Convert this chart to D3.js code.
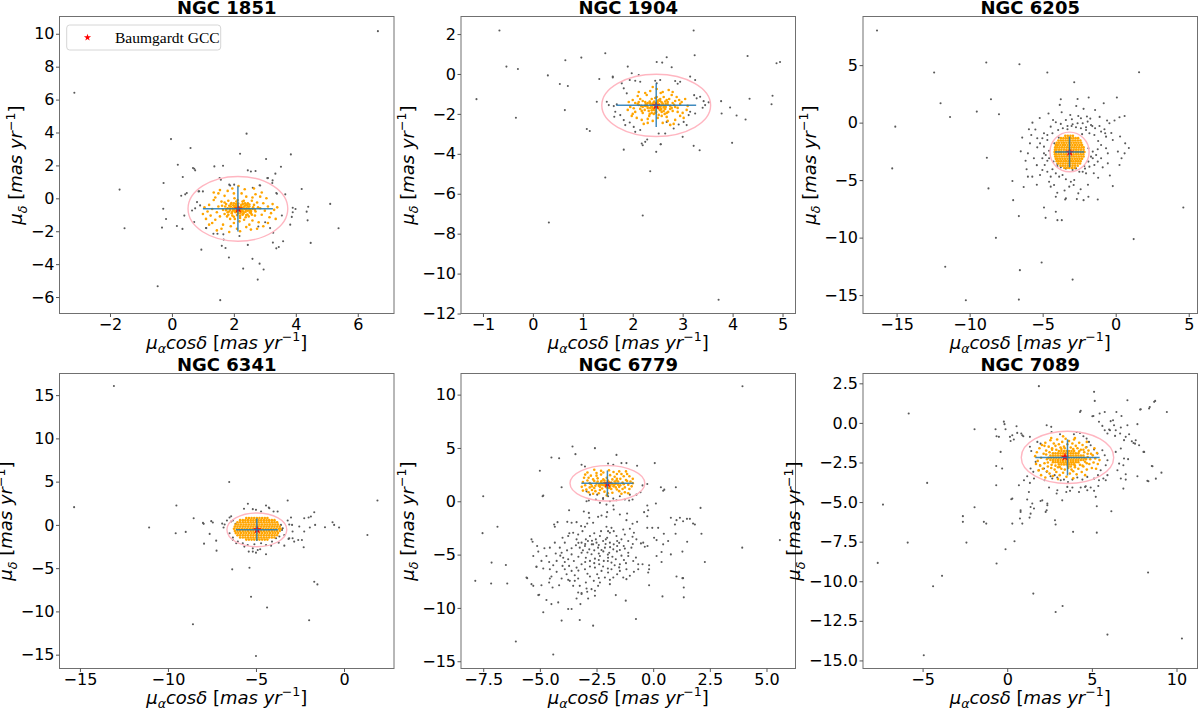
<!DOCTYPE html>
<html>
<head>
<meta charset="utf-8">
<script src="https://cdn.jsdelivr.net/npm/d3@7"></script>
<style>
  body { margin: 0; background: #fff; }
  svg text { font-family: "DejaVu Sans", sans-serif; }
</style>
</head>
<body>
<svg id="fig" width="1200" height="710"></svg>
<script>
// values (proper motions in mas/yr)
const clusterNames = ["NGC 1851", "NGC 1904", "NGC 6205", "NGC 6341", "NGC 6779", "NGC 7089"];
const baumgardtPM = [[2.145, -0.65], [2.469, -1.594], [-3.149, -2.574], [-4.93, -0.55], [-2.018, 1.618], [3.41, -2.16]];
const memberMean = [[2.13, -0.64], [2.47, -1.57], [-3.16, -2.55], [-4.95, -0.57], [-2.02, 1.68], [3.56, -2.18]];
const ellipseSemiAxes = [[1.61, 1.97], [1.09, 1.56], [1.34, 1.72], [1.7, 1.95], [1.65, 1.66], [2.73, 1.65]];
const crossHalfLength = [[1.13, 1.38], [0.8, 1.09], [1.0, 1.34], [1.19, 1.3], [1.15, 1.2], [1.9, 1.14]];

const xLimits = [[-3.63, 7.17], [-1.44, 5.26], [-17.3, 5.6], [-16.16, 2.84], [-8.48, 6.28], [-8.52, 11.24]];
const yLimits = [[-7.0, 11.05], [-12.0, 2.88], [-16.6, 9.23], [-16.6, 17.5], [-15.68, 11.98], [-15.51, 3.12]];
const xTickValues = [[-2, 0, 2, 4, 6], [-1, 0, 1, 2, 3, 4, 5], [-15, -10, -5, 0, 5], [-15, -10, -5, 0], [-7.5, -5, -2.5, 0, 2.5, 5], [-5, 0, 5, 10]];
const yTickValues = [[-6, -4, -2, 0, 2, 4, 6, 8, 10], [-12, -10, -8, -6, -4, -2, 0, 2], [-15, -10, -5, 0, 5], [-15, -10, -5, 0, 5, 10, 15], [-15, -10, -5, 0, 5, 10], [-15, -12.5, -10, -7.5, -5, -2.5, 0, 2.5]];
const xTickFormat = ["d", "d", "d", "d", ".1f", "d"];
const yTickFormat = ["d", "d", "d", "d", "d", ".1f"];

// NGC 1851
const ngc1851Field = [[6.65,10.16],[-3.15,6.42],[2.41,3.93],[-0.03,3.6],[0.6,3.06],[2.2,2.71],[3.84,2.67],[3.04,2.39],[0.19,2.04],[1.65,1.98],[3.52,1.92],[0.68,1.84],[0.75,1.7],[2.45,1.7],[2.7,1.66],[0.35,1.3],[3.34,1.5],[1.54,1.23],[3.1,1.23],[-0.27,0.93],[1.85,0.83],[2.83,0.79],[3.24,0.93],[-1.69,0.53],[0.88,0.43],[4.19,0.57],[0.3,0.16],[0.48,0.32],[3.37,0.32],[3.66,0.24],[5.11,-0.34],[-0.28,-0.63],[0.75,-0.61],[3.9,-0.57],[3.99,-0.65],[4.4,-0.51],[3.9,-0.85],[4.35,-0.81],[0.4,-1.05],[-0.19,-1.26],[3.87,-1.13],[4.38,-1.34],[0.72,-1.44],[0.16,-1.68],[-0.32,-1.78],[-1.53,-1.82],[0.34,-1.86],[1.1,-1.8],[5.38,-1.82],[1.34,-2.15],[2.18,-2.29],[3.27,-2.09],[1.67,-2.51],[3.26,-2.69],[3.59,-2.61],[4.48,-2.71],[1.61,-2.89],[2.45,-2.83],[1.73,-3.02],[3.45,-2.96],[3.37,-3.04],[0.95,-3.12],[1.84,-3.6],[2.6,-3.68],[2.83,-3.97],[2.3,-4.27],[2.96,-4.33],[2.77,-4.94],[-0.46,-5.34],[1.56,-6.19],[1.88,0.78],[2.01,0.83],[2.61,0.64],[2.85,0.78],[0.86,0.42],[1.0,0.42],[0.81,-0.23],[0.91,-0.43],[0.65,-0.74],[1.11,-1.81],[1.47,-2.15],[1.66,-2.19],[2.79,-1.71],[3.01,-1.45],[3.17,-1.81],[3.55,-1.04],[3.82,-1.6],[3.39,0.28],[1.58,1.13],[2.55,1.63],[3.08,1.23],[3.25,1.09],[0.43,0.24],[0.72,1.8],[1.37,1.94]];
const ngc1851Members = [[2.13,-0.62],[2.05,-0.55],[2.2,-0.7],[2.25,-0.58],[1.98,-0.72],[2.3,-0.8],[2.1,-0.4],[2.15,-0.9],[1.9,-0.5],[2.4,-0.6],[2.35,-0.45],[1.85,-0.8],[2.0,-0.3],[2.28,-1.0],[2.45,-0.75],[1.95,-1.05],[2.5,-0.5],[1.8,-0.6],[2.6,-0.65],[2.08,-0.2],[2.2,-1.2],[1.75,-0.35],[2.55,-0.9],[1.7,-0.95],[2.65,-0.4],[2.38,-1.15],[1.88,-1.25],[2.02,0.0],[2.32,-0.15],[1.65,-0.7],[2.7,-0.8],[2.18,-1.4],[1.6,-0.2],[2.75,-0.25],[1.55,-1.1],[2.85,-0.6],[2.0,-1.5],[2.4,0.1],[1.5,-0.5],[2.9,-1.0],[1.45,-0.85],[2.6,-1.35],[1.7,0.15],[2.95,-0.3],[1.4,-1.3],[3.0,-0.75],[2.25,0.3],[1.9,-1.7],[2.5,-1.6],[1.35,-0.1],[3.1,-0.5],[1.3,-0.65],[3.15,-1.15],[1.8,0.45],[2.7,0.25],[1.25,-1.05],[2.1,-1.85],[2.8,-1.45],[1.5,0.3],[3.2,-0.9],[1.2,-0.4],[2.35,0.55],[1.65,-1.6],[3.05,0.0],[1.15,-0.8],[2.55,-1.9],[1.95,0.6],[3.25,-0.35],[1.1,-1.25],[2.9,0.35],[1.4,0.05],[2.2,-2.0],[1.6,-1.85],[3.3,-0.7],[1.05,-0.55],[2.65,0.6],[1.3,-1.5],[2.95,-1.7],[2.15,0.75],[1.85,-2.05],[2.45,-0.3],[2.3,-0.95],[1.92,-0.28],[2.05,-0.85],[2.22,-0.5],[2.12,-0.75],[2.0,-0.65],[2.27,-0.68],[2.17,-0.55],[1.93,-0.9],[2.38,-0.82],[2.42,-0.4],[1.78,-1.1],[2.48,-1.1],[1.82,-0.15],[2.58,-0.15],[1.72,-0.5],[2.68,-1.05],[2.03,-1.25],[2.33,-1.3],[2.12,-0.1],[1.62,-0.45],[2.78,-0.55],[2.06,-0.48],[2.24,-0.82],[2.16,-0.66],[1.98,-0.42],[2.29,-0.35],[2.1,-1.02],[2.44,-0.98],[1.87,-0.62],[2.52,-0.7],[3.35,-1.25],[1.0,-0.95],[3.4,-0.55],[2.75,-1.85],[1.55,0.5],[2.0,0.3],[2.85,0.1],[1.2,-1.6],[3.1,-1.5],[1.35,0.35],[2.6,0.05],[1.45,-1.95],[2.4,-1.75],[2.02,-0.58],[2.09,-0.68],[2.18,-0.6],[2.26,-0.74],[2.34,-0.65],[1.96,-0.6],[2.04,-0.78],[2.12,-0.85],[2.21,-0.92],[2.31,-0.55],[2.39,-0.7],[2.47,-0.62],[2.55,-0.78],[1.88,-0.7],[1.8,-0.85],[1.9,-0.35],[2.0,-0.45],[2.14,-0.32],[2.24,-0.4],[2.36,-0.3],[2.5,-0.38],[2.62,-0.55],[2.58,-1.0],[2.4,-1.02],[2.2,-1.08],[2.0,-1.12],[1.82,-1.0],[1.75,-0.72],[1.7,-0.25],[2.28,-0.2],[2.1,-0.55],[2.32,-0.88],[1.95,-0.82],[2.45,-0.5],[2.15,-0.78],[2.07,-0.35],[2.52,-0.85],[1.85,-0.45],[2.68,-0.7],[2.38,-0.42]];

// NGC 1904
const ngc1904Field = [[-0.67,2.18],[-1.13,-1.26],[-0.53,0.37],[-0.3,0.25],[-0.34,-2.19],[0.3,-0.07],[0.54,-0.5],[0.65,0.69],[0.7,-0.6],[0.64,-1.81],[0.97,0.82],[0.32,-7.44],[1.33,-0.25],[1.08,-2.76],[1.14,-2.86],[1.45,1.04],[1.6,-0.13],[1.9,0.37],[1.45,-5.19],[1.82,-3.79],[2.2,-7.09],[2.35,-4.87],[2.47,-3.9],[2.56,-3.52],[2.2,-3.57],[2.25,-3.4],[2.29,-3.28],[2.48,0.6],[2.59,0.57],[2.68,0.84],[2.78,0.34],[3.22,2.18],[3.24,0.94],[3.22,-3.6],[3.34,-3.82],[3.0,-3.15],[3.99,-3.45],[3.72,-11.31],[4.3,0.9],[4.34,-1.24],[4.26,-2.28],[4.08,-2.08],[3.95,-1.68],[3.78,-1.98],[3.77,-1.36],[4.8,-1.09],[4.78,-1.52],[4.88,0.54],[4.95,0.6],[1.78,-0.47],[1.94,-0.3],[2.05,-0.34],[2.15,-0.39],[2.45,-0.34],[2.55,-0.3],[2.48,-0.47],[2.85,-0.35],[2.95,-0.39],[2.9,-0.49],[3.15,-0.13],[3.25,-0.3],[3.23,-1.06],[3.35,-1.14],[3.28,-1.22],[3.42,-1.36],[3.45,-1.56],[3.4,-1.69],[3.52,-1.42],[3.15,-1.89],[3.25,-1.98],[3.12,-2.06],[3.02,-2.4],[3.08,-2.56],[2.92,-2.53],[2.82,-2.73],[1.28,-1.39],[1.48,-1.39],[1.52,-1.56],[1.62,-1.61],[1.68,-1.52],[1.65,-1.89],[1.75,-2.06],[1.63,-2.14],[1.82,-2.31],[1.94,-2.43],[1.85,-2.56],[2.02,-2.65],[2.05,-2.9],[2.15,-2.81],[2.18,-3.48],[2.56,-3.52],[2.52,-2.98],[2.65,-2.98],[2.75,-2.56],[2.68,-2.4],[1.82,-0.72],[1.88,-0.97],[1.98,0.04],[2.12,-0.05],[1.6,-0.17]];
const ngc1904Members = [[2.47,-1.6],[2.4,-1.5],[2.55,-1.65],[2.5,-1.45],[2.35,-1.7],[2.6,-1.55],[2.42,-1.8],[2.3,-1.45],[2.65,-1.75],[2.52,-1.3],[2.38,-1.95],[2.7,-1.4],[2.25,-1.6],[2.58,-1.9],[2.2,-1.35],[2.75,-1.6],[2.45,-1.2],[2.15,-1.75],[2.8,-1.85],[2.33,-2.1],[2.62,-1.15],[2.1,-1.5],[2.85,-1.35],[2.5,-2.2],[2.05,-1.9],[2.9,-1.7],[2.28,-1.05],[2.68,-2.15],[2.0,-1.3],[2.95,-1.5],[2.4,-2.35],[2.56,-0.95],[1.95,-1.65],[3.0,-1.95],[2.18,-2.3],[2.78,-1.05],[2.1,-1.1],[3.05,-1.25],[2.6,-2.45],[1.98,-2.1],[2.85,-2.3],[2.35,-0.85],[2.72,-0.8],[2.22,-2.5],[3.08,-1.8],[1.92,-1.4],[2.48,-0.75],[2.95,-2.1],[2.12,-0.9],[2.82,-2.5],[2.44,-1.68],[2.53,-1.52],[2.49,-1.58],[2.37,-1.6],[2.58,-1.42],[2.43,-1.38],[2.62,-1.68],[2.32,-1.85],[2.55,-1.82],[2.66,-1.5],[2.26,-1.5],[2.47,-1.9],[2.73,-1.25],[2.17,-1.6],[2.9,-1.9],[2.05,-1.45],[2.38,-1.25],[2.64,-2.0],[2.78,-1.7],[2.2,-1.95],[2.88,-1.15],[2.3,-2.25],[2.52,-2.05],[2.68,-1.3],[2.15,-1.25],[2.42,-2.0],[2.98,-1.4],[2.02,-1.72],[2.6,-0.9],[2.25,-0.95],[2.7,-2.35],[2.08,-2.2],[3.1,-1.6],[1.9,-1.8],[2.4,-0.65],[2.8,-0.9],[2.34,-1.38],[2.57,-1.75],[2.46,-1.47],[2.51,-1.7],[2.4,-1.72],[2.63,-1.6],[2.29,-1.62],[2.55,-1.35],[2.45,-1.82],[2.36,-1.52],[2.71,-1.9],[2.24,-1.8],[2.83,-1.55],[2.12,-1.4],[2.93,-1.3],[2.0,-2.0],[3.02,-2.2],[2.3,-2.45],[2.75,-2.55],[2.44,-1.55],[2.52,-1.62],[2.39,-1.65],[2.58,-1.58],[2.48,-1.72],[2.35,-1.45],[2.6,-1.48],[2.42,-1.42],[2.54,-1.78],[2.3,-1.7],[2.66,-1.65],[2.28,-1.55],[2.7,-1.52],[2.5,-1.35],[2.62,-1.85],[2.38,-1.82],[2.45,-1.95],[2.55,-1.25],[2.75,-1.75],[2.2,-1.65],[2.8,-1.45],[2.25,-1.4],[2.34,-2.0],[2.68,-1.95],[2.58,-2.1],[2.18,-1.85],[2.85,-1.65],[2.12,-1.55],[2.65,-1.38],[2.48,-1.15]];

// NGC 6205
const ngc6205Field = [[-16.34,8.01],[-8.86,5.23],[-6.59,5.08],[-12.43,4.36],[-4.68,4.36],[1.6,4.38],[-2.84,3.51],[-3.76,2.03],[-3.83,1.54],[-2.61,2.06],[-1.85,2.18],[0.08,2.18],[-8.54,2.03],[-11.99,1.68],[-9.51,0.96],[-7.99,0.73],[-11.34,0.49],[-15.09,-0.35],[-15.3,-3.98],[-2.7,1.45],[-1.41,1.1],[-0.82,1.68],[-8.82,-3.05],[-8.71,-5.72],[-7.07,-5.08],[-7.02,-6.74],[-6.63,-8.13],[-4.91,-7.38],[-4.8,-8.28],[-4.1,-7.75],[-3.99,-8.48],[-3.69,-8.48],[-3.46,-6.68],[-2.66,-6.65],[-2.2,-6.74],[-1.87,-6.45],[-1.23,-6.68],[-0.2,-5.52],[4.63,-7.38],[1.23,-10.13],[-8.2,-10.02],[-11.67,-12.54],[-6.56,-12.83],[-5.07,-12.17],[-2.95,-13.65],[-10.26,-15.45],[-6.63,-15.39],[-2.38,0.38],[-1.97,0.53],[-1.74,0.35],[-2.56,0.58],[-3.11,0.67],[-3.41,0.23],[-3.0,0.29],[-4.1,0.03],[-3.76,-0.11],[-4.29,0.23],[-4.45,-0.35],[-3.3,-0.29],[-2.95,-0.14],[-2.61,-0.06],[-2.26,-0.06],[-1.92,0.09],[-1.69,-0.2],[-2.03,-0.4],[-1.41,-0.49],[-1.11,-0.29],[-0.77,-0.58],[-1.0,-0.78],[-0.59,0.18],[-0.43,-0.06],[-0.08,0.18],[0.26,0.47],[0.61,0.58],[-0.72,-0.93],[-0.66,-1.22],[-5.94,-0.58],[-5.78,-1.07],[-4.91,-0.93],[-4.68,-1.07],[-5.02,-1.36],[-5.18,-1.8],[-5.37,-2.15],[-6.01,-2.67],[-5.6,-3.1],[-4.91,-2.67],[-5.02,-3.1],[-4.68,-3.31],[-4.86,-3.69],[-5.02,-4.12],[-5.18,-4.56],[-6.1,-4.06],[-5.71,-4.7],[-4.68,-4.27],[-4.33,-4.06],[-4.45,-4.7],[-4.1,-4.41],[-3.87,-4.7],[-3.64,-4.56],[-4.56,-5.14],[-4.22,-5.43],[-4.45,-5.57],[-3.41,-4.93],[-3.07,-5.14],[-2.84,-4.99],[-3.18,-5.57],[-2.88,-5.43],[-2.26,-4.27],[-2.03,-4.41],[-2.56,-6.15],[-3.41,-6.59],[-4.1,-6.44],[-6.17,-3.31],[-6.01,-4.7],[-5.87,-1.8],[-5.37,-1.36],[-1.87,-2.23],[-1.57,-2.52],[-1.23,-2.32],[-1.69,-2.96],[-1.34,-2.82],[-1.0,-3.1],[-1.23,-3.39],[-1.46,-3.69],[-1.8,-3.83],[-0.89,-3.89],[-0.54,-3.54],[-0.2,-1.51],[0.15,-2.52],[0.65,-1.8],[0.26,-3.69],[0.61,-2.67],[-0.66,-2.23],[-0.54,-2.67],[-1.0,-1.94],[-2.72,-3.98],[-2.49,-4.27],[-2.95,-4.12],[-3.76,-3.89],[-3.41,-4.0],[-3.94,-0.64],[-3.62,-0.49],[-3.3,-0.58],[-3.02,-0.29],[-2.72,-0.4],[-2.38,-0.49],[-2.03,-0.64],[-1.8,-0.93],[-1.46,-1.07],[-4.33,-0.93],[-4.68,-1.51],[-4.91,-2.09],[-4.56,-2.44],[-4.79,-2.82],[-4.56,-3.1],[-4.26,-3.39],[-3.99,-3.77],[-2.15,-3.77],[-1.87,-3.39],[-1.57,-3.1],[-5.5,-0.6],[-5.2,0.4],[-4.6,0.8],[-3.7,0.9],[-2.2,1.2],[-1.1,0.5],[-0.3,-0.9],[0.3,-1.2],[0.9,-2.2],[0.4,-3.1],[-0.4,-4.6],[-1.2,-4.8],[-1.9,-5.4],[-2.4,-5.8],[-3.5,-5.9],[-4.0,-6.1],[-5.4,-5.4],[-6.3,-5.6],[-6.5,-2.5],[-6.4,-1.3],[-5.7,0.0],[-1.6,-0.3],[-3.9,-1.3],[-2.3,-1.0],[-1.2,-1.6],[-4.2,-1.8],[-4.0,-3.6],[-2.1,-4.0],[-1.5,-4.4],[-5.4,-3.7]];
// dense core: rows of [pmdec, [pmra ...]]
const ngc6205MemberRows = [
  [-1.15, [-3.45,-3.28,-3.1,-2.93]],
  [-1.35, [-3.75,-3.58,-3.42,-3.25,-3.08,-2.9,-2.74,-2.57]],
  [-1.55, [-3.92,-3.76,-3.6,-3.43,-3.26,-3.1,-2.94,-2.77,-2.6,-2.42]],
  [-1.75, [-4.04,-3.88,-3.7,-3.54,-3.37,-3.2,-3.04,-2.87,-2.7,-2.54,-2.36]],
  [-1.95, [-4.1,-3.96,-3.79,-3.62,-3.46,-3.29,-3.12,-2.96,-2.79,-2.62,-2.46,-2.3]],
  [-2.15, [-4.14,-4.01,-3.85,-3.68,-3.51,-3.34,-3.18,-3.01,-2.84,-2.68,-2.51,-2.34,-2.2]],
  [-2.35, [-4.16,-4.05,-3.88,-3.72,-3.55,-3.38,-3.21,-3.05,-2.88,-2.71,-2.55,-2.38,-2.2]],
  [-2.55, [-4.18,-4.07,-3.9,-3.74,-3.57,-3.4,-3.23,-3.07,-2.9,-2.73,-2.57,-2.4,-2.23,-2.14]],
  [-2.75, [-4.16,-4.06,-3.9,-3.73,-3.56,-3.39,-3.22,-3.06,-2.89,-2.72,-2.56,-2.39,-2.22]],
  [-2.95, [-4.14,-4.03,-3.86,-3.69,-3.52,-3.36,-3.19,-3.02,-2.86,-2.69,-2.52,-2.35,-2.2]],
  [-3.15, [-4.1,-3.97,-3.8,-3.64,-3.47,-3.3,-3.14,-2.97,-2.8,-2.63,-2.47,-2.3]],
  [-3.35, [-4.04,-3.9,-3.73,-3.56,-3.4,-3.23,-3.06,-2.9,-2.73,-2.56,-2.4]],
  [-3.55, [-3.94,-3.78,-3.61,-3.44,-3.28,-3.11,-2.94,-2.78,-2.61,-2.44]],
  [-3.75, [-3.78,-3.62,-3.45,-3.28,-3.12,-2.95,-2.78,-2.6]],
  [-3.95, [-3.52,-3.35,-3.18,-3.0,-2.82]]
];

// NGC 6341
const ngc6341Field = [[-13.07,16.05],[-15.33,2.05],[-11.07,-0.31],[-9.52,2.24],[-9.56,-0.97],[-8.99,-0.81],[-8.54,0.77],[-7.97,0.12],[-7.95,-2.17],[-7.63,-1.04],[-7.45,0.27],[-7.26,-1.82],[-7.24,-2.98],[-6.92,0.15],[-6.84,-0.31],[-6.52,4.95],[-6.35,-5.14],[-5.46,2.44],[-5.68,1.86],[-5.37,-4.95],[-5.28,-8.31],[-5.18,1.82],[-5.0,1.74],[-4.71,1.55],[-4.43,2.24],[-4.27,2.01],[-4.0,1.55],[-3.77,1.55],[-3.2,2.82],[-4.43,-3.4],[-4.37,-9.55],[-8.58,-11.48],[-5.0,-15.16],[-3.01,0.85],[-2.95,0.0],[-2.92,-0.77],[-2.92,-1.55],[-3.39,-2.4],[-3.15,-1.62],[-2.6,-1.74],[-2.39,-1.74],[-2.29,-2.59],[-2.26,0.77],[-2.01,0.85],[-1.88,0.97],[-1.69,1.47],[-1.94,-0.31],[-1.64,0.0],[-1.08,-0.27],[-0.65,0.31],[-0.56,0.0],[-0.28,-0.31],[1.33,-1.16],[1.9,2.82],[-1.69,-6.57],[-1.51,-6.88],[-1.98,-11.02],[-3.58,0.0],[-3.52,-0.58],[-6.5,0.85],[-6.41,0.39],[-6.31,-1.74],[-6.12,-2.13],[-5.66,-2.51],[-5.41,-3.09],[-5.18,-3.09],[-5.0,-3.21],[-4.76,-2.82],[-4.14,-2.4],[-3.71,-2.05],[-4.24,1.93],[-6.41,1.0],[-6.65,0.5],[-6.78,0.04],[-6.31,0.5],[-6.16,0.12],[-3.2,0.5],[-3.11,0.04],[-3.48,-0.39],[-3.39,-1.16],[-3.67,-1.35],[-6.5,-0.97],[-6.31,-1.47],[-6.03,-1.93],[-5.75,-2.13],[-5.47,-2.32],[-5.09,-2.24],[-4.71,-2.13],[-4.43,-2.32],[-4.09,-1.93],[-3.86,-1.55],[-5.18,-2.71],[-4.9,-2.9],[-7.54,0.43],[-8.01,0.23],[-3.11,-1.55],[-2.83,-1.93],[-2.54,-0.19],[-2.26,-0.77]];
const ngc6341MemberRows = [
  [0.8, [-5.55,-5.4,-5.25,-5.1,-4.95,-4.8,-4.65,-4.5,-4.35]],
  [0.55, [-5.9,-5.75,-5.6,-5.45,-5.3,-5.15,-5.0,-4.85,-4.7,-4.55,-4.4,-4.25,-4.1,-3.95]],
  [0.3, [-6.05,-5.9,-5.75,-5.6,-5.45,-5.3,-5.15,-5.0,-4.85,-4.7,-4.55,-4.4,-4.25,-4.1,-3.95,-3.8]],
  [0.05, [-6.15,-6.0,-5.85,-5.7,-5.55,-5.4,-5.25,-5.1,-4.95,-4.8,-4.65,-4.5,-4.35,-4.2,-4.05,-3.9,-3.75]],
  [-0.2, [-6.2,-6.05,-5.9,-5.75,-5.6,-5.45,-5.3,-5.15,-5.0,-4.85,-4.7,-4.55,-4.4,-4.25,-4.1,-3.95,-3.8,-3.65]],
  [-0.45, [-6.25,-6.1,-5.95,-5.8,-5.65,-5.5,-5.35,-5.2,-5.05,-4.9,-4.75,-4.6,-4.45,-4.3,-4.15,-4.0,-3.85,-3.7,-3.6]],
  [-0.7, [-6.2,-6.05,-5.9,-5.75,-5.6,-5.45,-5.3,-5.15,-5.0,-4.85,-4.7,-4.55,-4.4,-4.25,-4.1,-3.95,-3.8,-3.65]],
  [-0.95, [-6.15,-6.0,-5.85,-5.7,-5.55,-5.4,-5.25,-5.1,-4.95,-4.8,-4.65,-4.5,-4.35,-4.2,-4.05,-3.9,-3.75]],
  [-1.2, [-6.05,-5.9,-5.75,-5.6,-5.45,-5.3,-5.15,-5.0,-4.85,-4.7,-4.55,-4.4,-4.25,-4.1,-3.95,-3.8]],
  [-1.45, [-5.9,-5.75,-5.6,-5.45,-5.3,-5.15,-5.0,-4.85,-4.7,-4.55,-4.4,-4.25,-4.1,-3.95]],
  [-1.7, [-5.55,-5.4,-5.25,-5.1,-4.95,-4.8,-4.65,-4.5,-4.35]]
];

// NGC 6779
const ngc6779Field = [[3.94,10.79],[-3.56,5.13],[-2.57,4.98],[-3.43,4.42],[-4.49,4.1],[-4.15,4.04],[-1.62,4.35],[-5.0,2.86],[-3.16,3.42],[-3.01,3.26],[-1.99,3.54],[-1.76,3.42],[-1.4,3.58],[-1.18,3.58],[-0.71,3.33],[0.07,3.58],[-4.04,1.31],[-4.88,0.47],[-7.5,0.47],[0.34,1.31],[0.49,1.09],[1.0,1.31],[-2.94,0.93],[-2.79,0.62],[-2.47,0.62],[-2.21,0.31],[-1.99,0.47],[-1.76,0.25],[-1.47,0.47],[-1.03,0.62],[-0.74,0.62],[-0.26,1.62],[-0.47,1.49],[-2.94,0.0],[-4.85,0.53],[0.44,0.99],[-2.84,0.07],[-2.53,0.16],[-2.21,0.22],[-1.91,0.0],[-1.62,0.1],[-1.25,0.16],[-1.06,0.07],[-0.91,0.16],[-2.35,-0.15],[-2.06,-0.31],[-1.76,-0.4],[-0.26,-0.4],[0.12,-0.21],[-0.56,0.84],[2.09,-0.62],[-3.71,-0.84],[-3.06,-0.96],[-2.84,-1.09],[-1.15,-1.15],[-1.74,-0.77],[-1.47,-1.24],[-2.03,-1.02],[-2.28,-1.33],[-2.43,-1.46],[-2.06,-1.46],[-0.4,-1.02],[-0.22,-0.84],[-0.26,-1.4],[0.78,-1.55],[1.03,-1.77],[1.32,-1.87],[1.62,-1.65],[1.84,-2.18],[-0.71,-1.93],[-0.91,-2.11],[-1.18,-1.77],[-2.82,-1.55],[-2.65,-2.02],[-2.91,-2.08],[-3.38,-1.96],[-3.6,-2.02],[-3.79,-1.93],[-4.22,-1.96],[-4.37,-2.18],[-4.34,-2.39],[-0.26,-2.49],[-0.04,-2.49],[0.22,-2.49],[0.47,-3.05],[0.99,-3.05],[2.13,-3.05],[1.5,-3.79],[0.66,-3.73],[0.44,-4.04],[0.04,-3.42],[0.15,-3.64],[-0.44,-3.88],[-0.25,-4.2],[1.29,-4.72],[0.78,-4.98],[0.37,-4.76],[0.15,-5.13],[2.28,-5.69],[0.37,-5.69],[-0.47,-5.91],[-0.18,-6.0],[-0.18,-6.37],[1.03,-7.06],[1.32,-7.21],[-0.18,-7.87],[0.41,-8.92],[1.35,-9.01],[-0.76,-11.04],[-1.21,-9.32],[-1.65,-8.8],[-1.91,-7.77],[-1.91,-7.37],[-2.35,-7.61],[-2.57,-8.39],[-2.57,-8.86],[-2.87,-9.11],[-3.16,-8.7],[-3.38,-9.11],[-3.21,-9.64],[-3.6,-10.1],[-3.75,-10.1],[-2.65,-11.66],[-3.24,-11.13],[-4.04,-11.19],[-4.85,-10.41],[-6.06,-13.15],[-4.49,-9.64],[-4.19,-9.48],[-4.71,-9.26],[-5.07,-8.8],[-4.15,-7.87],[-4.44,-8.09],[-4.93,-7.87],[-5.29,-7.93],[-5.37,-7.77],[-5.56,-7.21],[-4.56,-7.24],[-4.59,-7.62],[-4.49,-7.06],[-4.04,-7.24],[-3.75,-7.37],[-3.53,-7.93],[-3.68,-7.46],[-3.31,-8.55],[-3.16,-8.61],[-2.91,-8.49],[-2.72,-8.24],[-2.43,-7.93],[-2.94,-8.18],[-3.24,-7.93],[-5.37,-3.57],[-5.29,-5.13],[-5.07,-4.72],[-5.15,-6.12],[-4.93,-5.59],[-4.71,-5.13],[-4.59,-5.69],[-4.56,-6.37],[-4.41,-6.0],[-4.34,-3.88],[-4.12,-4.35],[-4.04,-4.82],[-4.0,-3.42],[-3.9,-3.88],[-4.56,-4.35],[-4.26,-5.59],[-3.97,-5.29],[-3.75,-5.44],[-3.6,-4.98],[-4.26,-6.62],[-4.0,-6.06],[-3.82,-6.84],[-3.6,-6.53],[-3.46,-6.93],[-3.38,-6.22],[-3.16,-5.9],[-3.01,-6.37],[-2.79,-6.12],[-2.57,-6.22],[-2.47,-6.84],[-2.28,-6.53],[-2.13,-7.15],[-1.99,-6.68],[-1.84,-6.37],[-1.76,-7.15],[-1.59,-6.84],[-1.47,-6.53],[-1.32,-7.15],[-1.18,-7.3],[-1.03,-6.99],[-0.85,-6.62],[-0.66,-6.37],[-3.75,-3.26],[-3.53,-2.95],[-3.31,-3.11],[-3.12,-2.8],[-3.38,-3.57],[-3.16,-3.88],[-2.97,-3.57],[-2.79,-3.26],[-3.41,-4.13],[-3.24,-4.35],[-3.01,-4.19],[-2.82,-4.51],[-2.65,-4.04],[-2.53,-3.57],[-2.35,-3.26],[-2.21,-3.73],[-2.03,-3.42],[-1.91,-2.95],[-2.06,-2.39],[-1.99,-2.8],[-1.84,-2.49],[-1.74,-2.8],[-2.43,-4.35],[-2.28,-4.57],[-2.13,-4.35],[-1.94,-4.82],[-1.76,-4.51],[-1.59,-4.19],[-1.47,-4.57],[-1.25,-4.44],[-1.1,-4.82],[-0.96,-4.35],[-2.72,-4.97],[-2.57,-5.38],[-2.35,-5.13],[-2.18,-5.59],[-1.99,-5.29],[-1.84,-5.75],[-1.65,-5.44],[-1.47,-5.9],[-1.29,-5.5],[-1.1,-5.13],[-3.16,-4.82],[-2.97,-5.29],[-2.79,-5.59],[-1.62,-3.26],[-1.4,-3.57],[-1.25,-3.11],[-1.1,-3.73],[-0.91,-3.33],[-1.32,-2.64],[-1.03,-2.58],[-0.85,-2.95],[-0.74,-3.57],[-0.54,-3.95],[-0.37,-4.26],[-0.76,-5.28],[-0.88,-5.6],[-0.66,-5.9],[-1.18,-6.37],[-2.79,-7.06],[-2.62,-7.46],[-2.97,-7.62],[-3.46,-7.46],[-3.31,-7.24],[-3.71,-6.06],[-3.9,-6.37],[-2.38,-5.9],[-2.21,-6.12],[-2.09,-3.57],[-1.91,-3.88],[-1.74,-4.04],[-1.59,-3.73],[-2.88,-3.73],[-2.71,-4.04],[-2.5,-3.88],[-3.18,-2.33],[-3.01,-2.39],[-4.85,-6.31],[-0.22,-6.68],[-7.53,-2.99],[-6.87,-2.39],[-5.32,-3.79],[-5.12,-4.2],[-5.15,-6.16],[-5.03,-8.77],[-4.41,-14.37],[-7.13,-5.75],[-6.5,-5.97],[-7.15,-7.71],[-7.85,-7.46],[-6.44,-7.71],[-5.59,-7.15],[5.59,-3.64],[3.93,-4.35],[1.29,-7.21],[1.35,-8.08],[1.49,-1.65],[1.76,-2.08],[1.18,-1.55],[0.96,-2.18],[-3.1,-4.6],[-2.9,-4.8],[-2.6,-4.6],[-2.4,-4.9],[-2.2,-4.7],[-2.0,-5.0],[-1.8,-5.2],[-3.3,-5.2],[-3.5,-5.6],[-3.0,-5.7],[-2.6,-5.8],[-2.4,-5.5],[-2.0,-5.6],[-1.7,-6.0],[-3.6,-4.4],[-3.3,-3.9],[-3.0,-4.0],[-2.7,-3.7],[-2.4,-4.1],[-2.1,-4.0],[-1.9,-4.3],[-1.6,-4.7],[-1.4,-5.1],[-1.2,-5.8],[-3.8,-4.6],[-4.1,-5.1],[-3.9,-5.7],[-3.3,-6.5],[-2.9,-6.8],[-2.4,-7.2],[-2.0,-6.3],[-1.5,-6.2],[-3.7,-3.0],[-2.6,-3.0],[-2.3,-2.8],[-1.5,-3.9],[-1.3,-4.2],[-0.9,-4.0],[-4.3,-4.9],[-4.8,-4.4]];
const ngc6779Members = [[-2.02,1.6],[-2.1,1.7],[-1.9,1.5],[-2.2,1.5],[-1.85,1.75],[-2.3,1.8],[-1.75,1.4],[-2.4,1.45],[-1.65,1.65],[-2.15,1.95],[-1.95,1.25],[-2.5,1.65],[-1.55,1.85],[-2.25,1.2],[-1.8,2.05],[-2.6,1.9],[-1.45,1.5],[-2.05,2.2],[-2.35,1.05],[-1.6,1.1],[-2.7,1.4],[-1.35,1.75],[-2.45,2.15],[-1.7,2.3],[-2.8,1.7],[-1.25,1.3],[-2.15,0.9],[-1.9,2.45],[-2.9,1.95],[-1.2,2.0],[-2.55,0.95],[-1.5,0.95],[-3.0,1.5],[-1.1,1.55],[-2.3,2.5],[-1.6,2.55],[-3.05,2.2],[-1.05,1.15],[-2.75,2.4],[-1.3,2.35],[-2.95,1.1],[-1.0,1.85],[-2.0,0.75],[-2.4,0.75],[-1.8,0.8],[-3.1,1.8],[-0.95,1.4],[-2.65,0.7],[-1.4,0.7],[-2.2,2.7],[-1.75,2.75],[-2.5,2.65],[-1.15,2.55],[-3.0,2.5],[-0.9,2.1],[-2.85,0.85],[-1.25,0.85],[-2.1,1.4],[-1.95,1.8],[-2.05,1.3],[-2.25,1.65],[-1.8,1.6],[-2.35,1.35],[-1.7,1.85],[-2.15,1.75],[-1.9,1.35],[-2.0,1.95],[-2.45,1.85],[-1.55,1.55],[-2.3,1.55],[-1.85,1.15],[-2.6,1.25],[-1.45,2.1],[-2.2,2.05],[-1.65,1.3],[-2.75,1.6],[-1.35,1.15],[-2.05,0.55],[-2.3,2.85],[-1.5,2.8],[-3.15,1.35],[-0.9,1.7],[-2.9,2.7],[-1.1,0.75],[-2.6,2.95],[-1.95,2.9],[-1.2,2.8],[-2.85,2.2],[-1.05,2.35],[-3.1,1.0],[-2.7,1.05],[-1.6,2.1],[-2.5,2.4],[-1.4,2.55],[-2.38,1.62],[-1.72,1.52],[-2.12,1.52],[-1.98,1.68],[-2.28,1.9],[-1.62,1.95],[-2.55,1.45],[-1.5,1.35],[-2.65,2.05],[-1.3,1.6],[-2.8,1.3],[-1.15,1.9]];

// NGC 7089
const ngc7089Field = [[1.87,2.32],[-5.82,0.59],[-1.93,-0.4],[-0.69,-0.4],[-0.16,-0.08],[-0.1,-0.4],[0.55,-0.21],[-0.49,-0.88],[0.16,-0.88],[0.89,-0.78],[1.34,-0.88],[-0.39,-1.83],[-0.65,-2.72],[-0.3,-2.88],[-0.65,-3.94],[-4.73,-3.79],[-7.34,-5.16],[0.24,-4.82],[-1.93,-5.33],[-2.62,-5.89],[-2.62,-6.25],[-1.38,-6.25],[-1.24,-6.36],[-2.41,-7.56],[-5.88,-7.56],[-7.65,-8.84],[-0.63,-8.88],[-0.1,-7.98],[0.43,-7.47],[0.3,-6.36],[0.89,-6.36],[0.79,-5.52],[1.32,-5.98],[-3.85,-9.66],[-4.38,-10.32],[-4.93,-14.67],[1.54,-10.78],[3.27,-11.56],[2.86,-11.94],[5.92,-13.37],[10.32,-13.62],[8.32,-9.45],[3.89,-6.88],[5.29,-6.93],[6.15,-5.58],[2.82,-6.15],[2.86,-6.42],[1.97,-4.93],[2.27,-5.62],[1.38,-5.31],[2.37,-5.09],[3.49,-4.36],[4.6,-4.04],[4.73,-4.25],[5.13,1.96],[5.17,1.39],[4.3,0.69],[5.09,0.44],[5.46,0.59],[5.76,0.69],[6.45,0.69],[6.75,0.44],[7.1,1.43],[7.89,0.86],[8.42,1.0],[8.74,1.39],[9.43,0.69],[6.11,0.11],[6.25,0.17],[6.71,-0.29],[5.92,-0.67],[6.37,-0.82],[6.9,-1.09],[7.36,-1.16],[7.55,-1.31],[8.05,-1.83],[7.14,-2.29],[6.86,-2.67],[8.54,-2.72],[9.11,-3.14],[8.78,-3.52],[8.34,-3.68],[7.69,-3.37],[6.86,-4.15],[5.38,-3.98],[5.62,-0.19],[6.07,-0.46],[-0.2,0.08],[-0.63,-0.84],[0.3,-0.78],[0.39,-1.05],[0.2,-1.14],[0.59,-0.63],[0.83,-0.67],[0.95,-0.84],[2.33,-0.15],[2.6,-0.25],[2.62,-0.57],[3.12,-0.72],[3.94,-0.72],[4.1,-0.57],[4.34,0.76],[5.03,0.42],[5.42,0.07],[5.76,-0.46],[6.02,-0.42],[6.31,-0.15],[6.41,-0.46],[6.67,-0.67],[7.0,-0.88],[7.2,-0.72],[7.46,-1.27],[7.59,-1.1],[7.1,-0.15],[7.69,-0.08],[7.85,0.84],[8.38,0.91],[8.68,1.33],[4.3,-0.63],[4.5,-0.84],[4.69,-0.99],[4.83,-1.2],[4.69,-1.52],[4.93,-1.41],[5.13,-1.68],[5.33,-1.94],[5.62,-1.73],[5.76,-2.04],[5.92,-2.36],[5.82,-2.67],[5.52,-2.99],[5.36,-3.3],[5.13,-3.52],[4.73,-3.41],[4.44,-3.58],[4.14,-3.45],[6.41,-1.83],[6.61,-2.57],[6.51,-2.99],[5.92,-3.3],[5.82,-3.62],[6.71,-1.62],[6.9,-2.25],[1.34,-1.51],[1.42,-1.77],[1.78,-1.2],[1.97,-1.31],[1.68,-2.46],[1.93,-2.67],[1.87,-2.99],[2.17,-2.88],[2.33,-3.09],[2.56,-3.37],[2.8,-3.3],[2.66,-3.51],[2.96,-3.45],[3.16,-3.62],[3.35,-3.58],[3.59,-3.73],[3.85,-3.58],[1.38,-2.88],[1.54,-3.09],[1.18,-3.37],[1.58,-3.51],[0.99,-3.62],[1.34,-3.79],[0.69,-3.94],[2.21,-3.62],[2.47,-4.08],[3.55,-4.04],[3.71,-4.29],[3.85,-4.08],[4.34,-4.08],[4.64,-4.0],[4.93,-4.08],[5.13,-4.29],[4.24,-4.36],[5.42,-3.62],[5.68,-3.51],[6.71,-3.51],[7.0,-3.24],[8.28,-3.66],[8.58,-2.74],[8.09,-1.83],[7.79,-1.41],[2.96,-4.25],[2.92,-4.46],[3.25,-4.89],[1.28,-4.36],[1.18,-4.84],[1.48,-5.09],[1.58,-5.41],[1.38,-5.73],[2.07,-4.89],[2.37,-5.2],[2.33,-5.52],[0.79,-5.62],[0.75,-6.04],[0.3,-4.78],[5.29,-5.26],[5.23,-4.67],[7.0,-3.58]];
const ngc7089MemberRows = [
  [-1.78, [3.05,3.2,3.35,3.5,3.65,3.8,3.95]],
  [-1.92, [2.7,2.85,3.0,3.15,3.3,3.45,3.6,3.75,3.9,4.05,4.2]],
  [-2.06, [2.55,2.7,2.85,3.0,3.15,3.3,3.45,3.6,3.75,3.9,4.05,4.2,4.35,4.5]],
  [-2.2, [2.45,2.6,2.75,2.9,3.05,3.2,3.35,3.5,3.65,3.8,3.95,4.1,4.25,4.4,4.55]],
  [-2.34, [2.55,2.7,2.85,3.0,3.15,3.3,3.45,3.6,3.75,3.9,4.05,4.2,4.35,4.5]],
  [-2.48, [2.7,2.85,3.0,3.15,3.3,3.45,3.6,3.75,3.9,4.05,4.2]],
  [-2.62, [3.05,3.2,3.35,3.5,3.65,3.8,3.95]]
];
const ngc7089MemberHalo = [[1.65,-2.1],[1.75,-1.85],[1.8,-2.4],[1.9,-1.6],[1.95,-2.7],[2.0,-2.2],[2.05,-1.4],[2.1,-2.9],[2.15,-1.95],[2.2,-2.55],[2.25,-1.25],[2.3,-1.75],[2.35,-3.05],[2.4,-2.75],[2.3,-2.0],[2.45,-1.5],[2.5,-3.2],[2.55,-1.1],[2.6,-2.85],[2.65,-1.6],[2.7,-3.35],[2.75,-1.3],[2.8,-2.95],[2.85,-1.45],[2.9,-3.1],[2.95,-1.05],[3.0,-2.8],[3.05,-1.35],[3.1,-3.3],[3.15,-1.55],[3.2,-2.9],[3.25,-1.2],[3.3,-3.15],[3.35,-1.5],[3.4,-2.95],[3.45,-1.0],[3.5,-3.4],[3.55,-1.35],[3.6,-2.85],[3.65,-1.15],[3.7,-3.2],[3.75,-1.55],[3.8,-2.95],[3.85,-1.3],[3.9,-3.05],[3.95,-1.05],[4.0,-2.8],[4.05,-1.45],[4.1,-3.25],[4.15,-1.6],[4.2,-2.9],[4.25,-1.25],[4.3,-2.65],[4.35,-1.7],[4.4,-3.1],[4.45,-1.4],[4.5,-2.75],[4.55,-1.85],[4.6,-2.45],[4.65,-1.55],[4.7,-2.95],[4.75,-2.15],[4.8,-1.75],[4.85,-2.6],[4.9,-2.3],[4.95,-1.95],[5.0,-2.85],[5.05,-2.05],[5.1,-2.5],[5.2,-2.25],[5.3,-1.9],[5.35,-2.6],[5.45,-2.35],[2.0,-3.3],[1.7,-2.6],[2.25,-3.45],[3.0,-3.55],[3.9,-3.5],[4.6,-3.3],[2.6,-0.95],[3.3,-0.85],[4.0,-0.95],[4.7,-1.2],[2.35,-2.3],[2.5,-1.85],[2.4,-2.5],[4.65,-2.3],[4.7,-2.55],[4.75,-1.95],[2.62,-2.65],[2.65,-1.7],[4.45,-2.7],[4.5,-1.7],[3.2,-1.65],[3.75,-2.75],[3.4,-1.6],[3.6,-2.75],[2.9,-1.7],[4.0,-2.7],[4.25,-1.8],[2.85,-2.7],[3.1,-2.78],[3.9,-1.65],[5.15,-1.6],[5.25,-2.9],[1.85,-3.0],[2.2,-1.45]];

// ---- assemble ----
const unrow = rows => rows.flatMap(([dec, ras]) => ras.map(ra => [ra, dec]));
const fieldStars = [ngc1851Field, ngc1904Field, ngc6205Field, ngc6341Field, ngc6779Field, ngc7089Field];
const memberStars = [ngc1851Members, ngc1904Members, unrow(ngc6205MemberRows), unrow(ngc6341MemberRows), ngc6779Members, unrow(ngc7089MemberRows).concat(ngc7089MemberHalo)];

const svg = d3.select("#fig");
const axLeft = [59.5, 461, 863, 59.5, 461, 863];
const axTop = [16.5, 16.5, 16.5, 373.5, 373.5, 373.5];
const axW = 334.5;
const axH = [297, 297, 297, 295, 295, 295];
const labelSize = 18;

function mathText(sel, parts) {
  let shift = 0;
  parts.forEach(([str, style, pos]) => {
    const target = pos === "sub" ? 0.24 * labelSize : pos === "sup" ? -0.42 * labelSize : 0;
    sel.append("tspan").text(str)
      .attr("font-style", style === "i" ? "italic" : "normal")
      .attr("font-size", pos ? labelSize * 0.7 : labelSize)
      .attr("dy", target - shift);
    shift = target;
  });
}
const nb = "\u00a0";
const xLabelParts = [["μ", "i"], ["α", "i", "sub"], ["cosδ", "i"], [nb + "[", "n"], ["mas" + nb + "yr", "i"], ["−1", "n", "sup"], ["]", "n"]];
const yLabelParts = [["μ", "i"], ["δ", "i", "sub"], [nb + "[", "n"], ["mas" + nb + "yr", "i"], ["−1", "n", "sup"], ["]", "n"]];

clusterNames.forEach((name, i) => {
  const w = axW, h = axH[i];
  const g = svg.append("g").attr("transform", `translate(${axLeft[i]},${axTop[i]})`);
  const x = d3.scaleLinear().domain(xLimits[i]).range([0, w]);
  const y = d3.scaleLinear().domain(yLimits[i]).range([h, 0]);

  g.append("g").selectAll("circle").data(fieldStars[i]).join("circle")
    .attr("cx", d => x(d[0])).attr("cy", d => y(d[1]))
    .attr("r", 1.05).attr("fill", "#595959");

  g.append("g").selectAll("circle").data(memberStars[i]).join("circle")
    .attr("cx", d => x(d[0])).attr("cy", d => y(d[1]))
    .attr("r", 1.3).attr("fill", "#ffa500");

  const c = memberMean[i], ax = ellipseSemiAxes[i], ch = crossHalfLength[i], b = baumgardtPM[i];
  g.append("ellipse")
    .attr("cx", x(c[0])).attr("cy", y(c[1]))
    .attr("rx", x(c[0] + ax[0]) - x(c[0])).attr("ry", y(c[1]) - y(c[1] + ax[1]))
    .attr("fill", "none").attr("stroke", "#ffb6c1").attr("stroke-width", 1.4);

  g.append("path")
    .attr("d", d3.symbol(d3.symbolStar, 24)())
    .attr("transform", `translate(${x(b[0])},${y(b[1])})`)
    .attr("fill", "red");

  g.append("line")
    .attr("x1", x(c[0] - ch[0])).attr("x2", x(c[0] + ch[0]))
    .attr("y1", y(c[1])).attr("y2", y(c[1]))
    .attr("stroke", "#1f77b4").attr("stroke-width", 1.5).attr("opacity", 0.85);
  g.append("line")
    .attr("x1", x(c[0])).attr("x2", x(c[0]))
    .attr("y1", y(c[1] - ch[1])).attr("y2", y(c[1] + ch[1]))
    .attr("stroke", "#1f77b4").attr("stroke-width", 1.5).attr("opacity", 0.85);

  g.append("rect").attr("width", w).attr("height", h)
    .attr("fill", "none").attr("stroke", "#707070").attr("stroke-width", 1);

  const xa = g.append("g").attr("transform", `translate(0,${h})`)
    .call(d3.axisBottom(x).tickValues(xTickValues[i]).tickFormat(d3.format(xTickFormat[i])).tickSize(3.5).tickPadding(2));
  const ya = g.append("g")
    .call(d3.axisLeft(y).tickValues(yTickValues[i]).tickFormat(d3.format(yTickFormat[i])).tickSize(3.5).tickPadding(1.5));
  [xa, ya].forEach(a => {
    a.select(".domain").remove();
    a.attr("font-size", 16).attr("font-family", "DejaVu Sans");
    a.selectAll("line").attr("stroke", "#555");
    a.selectAll("text").attr("fill", "#000");
  });

  g.append("text").attr("x", w / 2).attr("y", -2.5)
    .attr("text-anchor", "middle").attr("font-size", 18).attr("font-weight", "bold")
    .text(name);

  const xl = g.append("text").attr("x", w / 2).attr("y", h + 35).attr("text-anchor", "middle");
  mathText(xl, xLabelParts);

  const bb = ya.node().getBBox();
  const yl = g.append("text").attr("text-anchor", "middle")
    .attr("transform", `translate(${bb.x - 8.5},${h / 2}) rotate(-90)`);
  mathText(yl, yLabelParts);
});

// legend (first panel)
const lg = svg.append("g");
lg.append("rect").attr("x", 66.7).attr("y", 25).attr("width", 154).attr("height", 25).attr("rx", 3)
  .attr("fill", "#fff").attr("stroke", "#d6d6d6").attr("stroke-width", 1);
lg.append("path").attr("d", d3.symbol(d3.symbolStar, 16)())
  .attr("transform", "translate(87.5,37.5)").attr("fill", "red");
lg.append("text").attr("x", 115).attr("y", 42.5)
  .style("font-family", "'Liberation Serif', serif").attr("font-size", 15.5).text("Baumgardt GCC");
</script>
</body>
</html>
